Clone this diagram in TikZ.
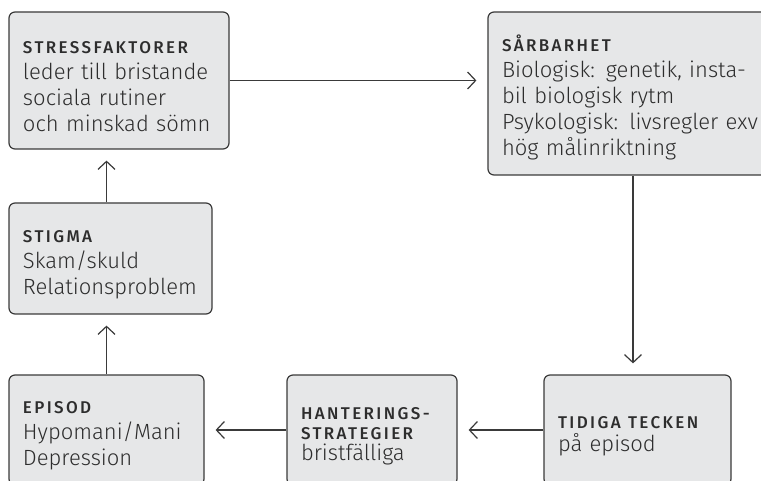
\documentclass[tikz,border=0pt]{standalone}
\usepackage{fontspec}
\setmainfont{Fira Sans Light}[BoldFont={Fira Sans Medium}]
\usepackage{tikz}
\usetikzlibrary{arrows.meta,positioning}
\definecolor{box-gray}{RGB}{230,231,232}
\definecolor{line-gray}{RGB}{58,58,58}
\definecolor{text-gray}{RGB}{45,45,45}
\newcommand{\hdr}[1]{{\fontsize{17}{26}\selectfont\bfseries
  \addfontfeatures{LetterSpace=14}#1}}

\begin{document}
\begin{tikzpicture}[
    x=1pt, y=-1pt,
    box/.style = {rectangle, rounded corners=6pt, draw=line-gray,
                  line width=1.2pt, fill=box-gray, align=left,
                  inner xsep=14pt, inner ysep=0pt, text=text-gray,
                  font=\fontsize{22}{26}\selectfont,
                  execute at begin node={\rule{0pt}{24pt}}},
    arrow/.style = {-{Straight Barb[length=8pt,width=17pt]},
                    line width=1.2pt, color=line-gray, shorten >=11pt}
  ]
    \useasboundingbox (0,0) rectangle (761,481);
    \clip (0,0) rectangle (761,481);

    %% ---- top row ----
    \node[box, text width=192pt, minimum height=137pt,
          execute at begin node={\rule{0pt}{16pt}}] (stress) at (119,80.5)
      {\hdr{STRESSFAKTORER}\\
       leder till bristande\\sociala rutiner\\och minskad sömn};
    \node[box, text width=262pt, minimum height=163pt] (sarb) at (633,93.5)
      {\hdr{SÅRBARHET}\\
       Biologisk: genetik, insta-\\bil biologisk rytm\\
       Psykologisk: livsregler exv\\hög målinriktning};

    %% ---- left column ----
    \node[box, text width=175pt, minimum height=111pt] (stigma) at (110.5,258.5)
      {\hdr{STIGMA}\\Skam/skuld\\Relationsproblem};

    %% ---- bottom row (cut by the lower edge) ----
    \node[box, text width=167pt, minimum height=110pt] (episod) at (106.5,430)
      {\hdr{EPISOD}\\Hypomani/Mani\\Depression};
    \node[box, text width=142pt, minimum height=110pt] (hant) at (372,430)
      {\hdr{HANTERINGS-}\\[-6pt]\hdr{STRATEGIER}\\[-5pt]bristfälliga};
    \node[box, text width=159pt, minimum height=110pt] (tidiga) at (637.5,430)
      {\hdr{TIDIGA TECKEN}\\[-3pt]på episod};

    %% ---- connectors ----
    \draw[arrow] (stress.east) -- (stress.east -| sarb.west);
    \draw[arrow] (sarb.south) -- (sarb.south |- tidiga.north);
    \draw[arrow] (tidiga.west) -- (hant.east);
    \draw[arrow] (hant.west) -- (episod.east);
    \draw[arrow] (episod.north) -- (episod.north |- stigma.south);
    \draw[arrow] (episod.north |- stigma.north) -- (episod.north |- stress.south);

  \end{tikzpicture}
\end{document}
